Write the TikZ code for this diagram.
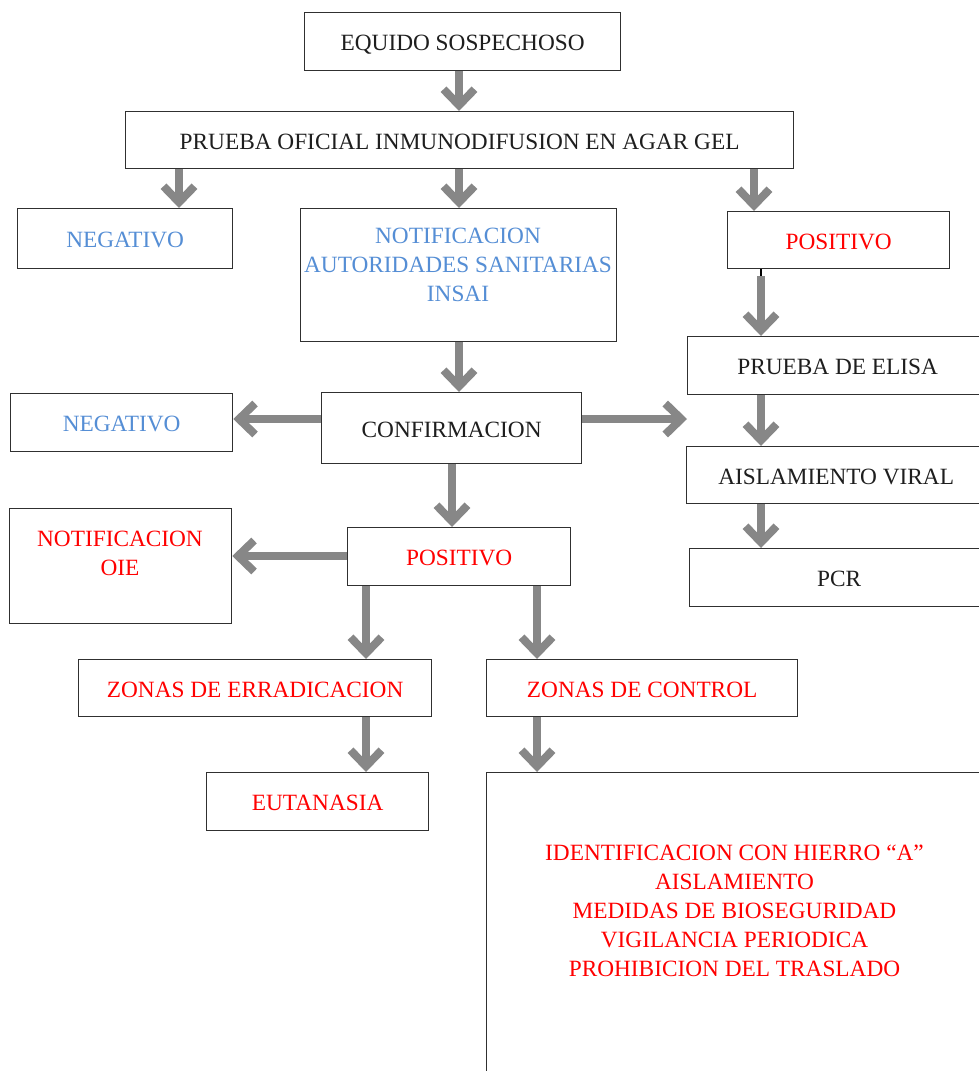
\documentclass[tikz,border=0pt]{standalone}
\usepackage{fontspec}
\setmainfont{Liberation Serif}
\usetikzlibrary{arrows.meta}
\definecolor{arrc}{HTML}{878787}
\definecolor{boxc}{HTML}{303030}
\definecolor{txtc}{HTML}{1E1E1E}
\definecolor{bluec}{HTML}{558ED5}
\definecolor{redc}{HTML}{FF0000}
\tikzset{
  box/.style={draw=boxc, line width=1.3pt, fill=white, inner sep=0pt, anchor=north west,
    font=\fontsize{23.3}{29}\selectfont, text=txtc, text height=18pt, text depth=0pt},
  lbl/.style={inner sep=0pt, align=center, font=\fontsize{23.3}{29}\selectfont},
  arr/.style={draw=arrc, line width=7.5pt, -{Straight Barb[length=16pt, width=31pt, line width=8pt]}},
  stub/.style={draw=black, line width=1.5pt},
}
\begin{document}
\begin{tikzpicture}[x=1pt,y=-1pt]
\clip (0,0) rectangle (979,1071);
\fill[white] (0,0) rectangle (979,1071);
% boxes
\node[box, minimum width=316pt, minimum height=58pt] (e1) at (304,12) {EQUIDO SOSPECHOSO};
\node[box, minimum width=668pt, minimum height=57pt] (e2) at (125,111) {PRUEBA OFICIAL INMUNODIFUSION EN AGAR GEL};
\node[box, minimum width=215pt, minimum height=60pt, text=bluec] (n1) at (17,208) {NEGATIVO};
\node[box, minimum width=316pt, minimum height=133pt] (not) at (300,208) {};
\node[lbl, text=bluec] (notT) at (458,265) {NOTIFICACION\\AUTORIDADES SANITARIAS\\INSAI};
\node[box, minimum width=222pt, minimum height=57pt, text=redc] (p1) at (727,211) {POSITIVO};
\node[box, minimum width=300pt, minimum height=58pt] (eli) at (687,336) {PRUEBA DE ELISA};
\node[box, minimum width=299pt, minimum height=57pt] (ais) at (686,446) {AISLAMIENTO VIRAL};
\node[box, minimum width=299pt, minimum height=58pt] (pcr) at (689,548) {PCR};
\node[box, minimum width=260pt, minimum height=71pt] (conf) at (321,392) {CONFIRMACION};
\node[box, minimum width=222pt, minimum height=58pt, text=bluec] (n2) at (10,393) {NEGATIVO};
\node[box, minimum width=223pt, minimum height=58pt, text=redc] (p2) at (347,527) {POSITIVO};
\node[box, minimum width=222pt, minimum height=115pt] (oie) at (9,508) {};
\node[lbl, text=redc] (oieT) at (120,553.5) {NOTIFICACION\\OIE};
\node[box, minimum width=353pt, minimum height=57pt, text=redc] (zer) at (78,659) {ZONAS DE ERRADICACION};
\node[box, minimum width=311pt, minimum height=57pt, text=redc] (zco) at (486,659) {ZONAS DE CONTROL};
\node[box, minimum width=222pt, minimum height=58pt, text=redc] (eut) at (206,772) {EUTANASIA};
\node[box, minimum width=497pt, minimum height=320pt] (med) at (486,772) {};
\node[lbl, text=redc] (medT) at (734.5,910.5) {IDENTIFICACION CON HIERRO “A”\\AISLAMIENTO\\MEDIDAS DE BIOSEGURIDAD\\VIGILANCIA PERIODICA\\PROHIBICION DEL TRASLADO};
% arrows
\draw[arr] (459,0 |- e1.south) -- (459,0 |- e2.north);
\draw[arr] (179,0 |- e2.south) -- (179,0 |- n1.north);
\draw[arr] (459,0 |- e2.south) -- (459,0 |- not.north);
\draw[arr] (754,0 |- e2.south) -- (754,0 |- p1.north);
\draw[stub] (761,0 |- p1.south) -- (761,276);
\coordinate (s1) at (761,276);
\draw[arr] (s1) -- (761,0 |- eli.north);
\draw[arr] (761,0 |- eli.south) -- (761,0 |- ais.north);
\draw[arr] (761,0 |- ais.south) -- (761,0 |- pcr.north);
\draw[arr] (459,0 |- not.south) -- (459,0 |- conf.north);
\draw[arr] (0,419 -| conf.west) -- (0,419 -| n2.east);
\draw[arr] (0,419 -| conf.east) -- (0,419 -| eli.west);
\draw[arr] (452,0 |- conf.south) -- (452,0 |- p2.north);
\draw[arr] (0,556 -| p2.west) -- (0,556 -| oie.east);
\draw[arr] (366,0 |- p2.south) -- (366,0 |- zer.north);
\draw[arr] (537,0 |- p2.south) -- (537,0 |- zco.north);
\draw[arr] (366,0 |- zer.south) -- (366,0 |- eut.north);
\draw[arr] (537,0 |- zco.south) -- (537,0 |- med.north);
\end{tikzpicture}
\end{document}
